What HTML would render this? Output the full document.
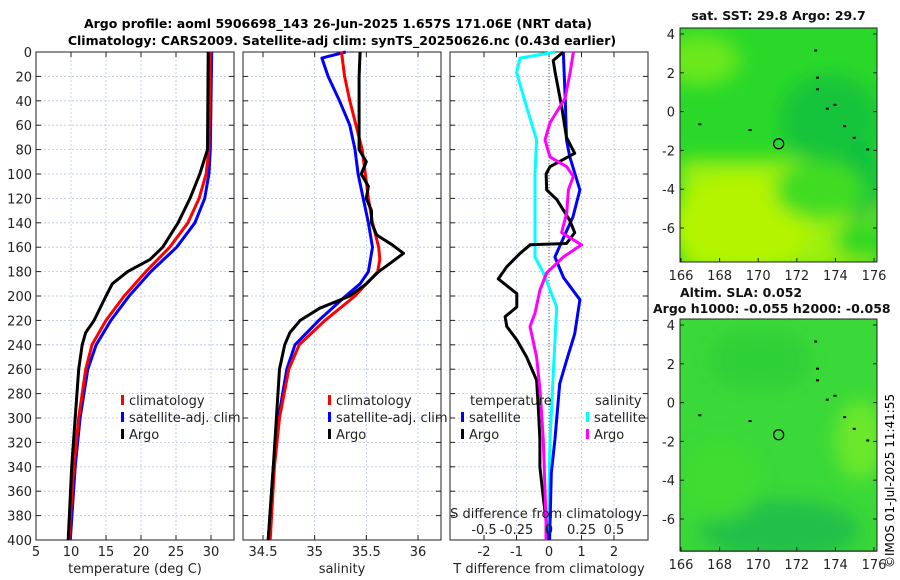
<!DOCTYPE html>
<html><head><meta charset="utf-8"><style>
html,body{margin:0;padding:0;background:#fff;}
svg{display:block;font-family:"DejaVu Sans","Liberation Sans",sans-serif;}
</style></head><body>
<svg id="fig" width="900" height="580" viewBox="0 0 900 580" xmlns="http://www.w3.org/2000/svg">
<defs>
<filter id="blur" x="-20%" y="-20%" width="140%" height="140%"><feGaussianBlur stdDeviation="9"/></filter>
<clipPath id="clipm1"><rect x="680" y="28" width="197" height="234"/></clipPath>
<clipPath id="clipm2"><rect x="680" y="319" width="197" height="233"/></clipPath>
</defs>
<text x="338" y="28" font-size="12.5" font-weight="bold" text-anchor="middle">Argo profile: aoml 5906698_143 26-Jun-2025 1.657S 171.06E (NRT data)</text>
<text x="342" y="45" font-size="12.5" font-weight="bold" text-anchor="middle">Climatology: CARS2009. Satellite-adj clim: synTS_20250626.nc (0.43d earlier)</text>
<g id="panels"></g>
<g clip-path="url(#clipm1)">
<rect x="680" y="28" width="197" height="234" fill="#2ad82a"/>
<g filter="url(#blur)">
<rect x="680" y="160" width="197" height="110" fill="#9ef010"/>
<ellipse cx="740" cy="225" rx="70" ry="50" fill="#b4f400"/>
<ellipse cx="700" cy="60" rx="40" ry="25" fill="#6ae81c"/>
<ellipse cx="830" cy="120" rx="50" ry="45" fill="#14c43a"/>
<ellipse cx="860" cy="180" rx="20" ry="40" fill="#10c040"/>
<ellipse cx="820" cy="190" rx="45" ry="30" fill="#40dc20"/>
<ellipse cx="860" cy="240" rx="25" ry="20" fill="#30d820"/>
</g>
</g>
<g clip-path="url(#clipm2)">
<rect x="680" y="319" width="197" height="233" fill="#3ad838"/>
<g filter="url(#blur)">
<ellipse cx="780" cy="530" rx="80" ry="30" fill="#20c048"/>
<ellipse cx="860" cy="440" rx="25" ry="40" fill="#6ae82a"/>
<ellipse cx="720" cy="480" rx="40" ry="40" fill="#40dc30"/>
<ellipse cx="760" cy="360" rx="50" ry="30" fill="#2ed038"/>
</g>
</g>
<g id="maps"></g>
<text transform="translate(894,568) rotate(-90)" font-size="12">©IMOS 01-Jul-2025 11:41:55</text>
</svg>
<script>
// ---- data ----
const tempDepth = [0,80,100,120,140,160,170,180,190,200,220,230,240,260,300,340,400];
const tempArgo  = [29.6,29.5,28.4,27,25.3,23.1,21.3,18.1,15.9,15,13.3,12.1,11.6,11.1,10.6,10.1,9.6];
const climDepth = [0,80,100,120,140,160,180,200,220,240,260,300,340,400];
const tempClim  = [29.9,29.7,29.3,28.3,26.7,24.1,20.7,17.6,15,13,12.1,11.1,10.4,9.7];
const tempSat   = [30.1,29.9,29.7,29.1,27.7,25.1,21.4,18.3,15.7,13.6,12.4,11.3,10.6,9.9];
const salArgoDepth = [0,20,40,60,80,90,100,110,120,130,140,150,158,165,172,180,190,200,210,220,230,240,260,300,340,400];
const salArgo = [35.44,35.43,35.43,35.43,35.43,35.5,35.45,35.52,35.5,35.55,35.55,35.6,35.75,35.86,35.75,35.62,35.5,35.34,35.05,34.86,34.76,34.71,34.66,34.63,34.6,34.55];
const salClimDepth = [0,20,40,60,80,100,120,140,160,170,180,200,220,240,260,300,340,400];
const salClim = [35.26,35.29,35.34,35.4,35.46,35.49,35.52,35.56,35.62,35.63,35.61,35.39,35.1,34.85,34.75,34.66,34.61,34.57];
const salSatDepth = [0,5,20,40,60,80,100,120,140,160,180,190,200,220,240,260,300,340,400];
const salSat = [35.3,35.07,35.13,35.24,35.34,35.39,35.42,35.47,35.52,35.56,35.52,35.44,35.3,35.04,34.81,34.73,34.65,34.6,34.55];
const tdSatDepth = [0,40,72,86,113,135,168,185,203,231,253,272,318,345,400];
const tdSat = [0.44,0.5,0.54,0.64,0.95,0.74,0.18,0.45,0.95,0.79,0.54,0.33,0.18,0.07,0.02];
const tdArgoDepth = [0,7,17,45,70,83,94,100,113,121,138,148,157,158,165,176,186,198,209,217,225,236,250,269,291,318,340,367,384,400];
const tdArgo = [0.44,0.13,0.19,0.39,0.54,0.79,0.03,-0.09,-0.07,0.24,0.64,0.79,0.54,-0.58,-0.89,-1.3,-1.56,-0.99,-0.99,-1.35,-1.3,-0.99,-0.69,-0.38,-0.33,-0.28,-0.28,-0.17,-0.09,-0.06];
const sdSatDepth = [0,5,17,45,72,100,154,168,181,209,236,263,318,384,400];
const sdSat = [0.046,-0.223,-0.249,-0.172,-0.095,-0.108,-0.108,-0.108,-0.044,0.059,0.046,0.033,0.008,-0.005,-0.005];
const sdArgoDepth = [0,17,38,58,72,86,94,102,113,132,148,158,168,181,195,214,225,250,277,318,384,400];
const sdArgo = [0.188,0.162,0.123,0.008,-0.031,0.008,0.136,0.187,0.149,0.136,0.097,0.251,0.110,-0.018,-0.069,-0.108,-0.146,-0.095,-0.069,-0.044,-0.023,-0.023];
const depthTicks = [0,20,40,60,80,100,120,140,160,180,200,220,240,260,280,300,320,340,360,380,400];
const tempTicks = [5,10,15,20,25,30];
const salTicks = [34.5,35,35.5,36];
const tdTicks = [-2,-1,0,1,2];
const sdTicks = [-0.5,-0.25,0,0.25,0.5];
const sdTickLabels = ['-0.5','-0.25','0','0.25','0.5'];
const latTicks = [4,2,0,-2,-4,-6];
const lonTicks = [166,168,170,172,174,176];
const argoLon = [171.06];
const argoLat = [-1.657];

const NS='http://www.w3.org/2000/svg';
function mk(tag,attrs,parent,txt){const e=document.createElementNS(NS,tag);for(const k in attrs)e.setAttribute(k,attrs[k]);if(txt!==undefined)e.textContent=txt;parent.appendChild(e);return e;}
const Y0=52,Y1=540;
const yD=d=>Y0+(Y1-Y0)*d/400;
function lin(d0,d1,r0,r1){return v=>r0+(v-d0)*(r1-r0)/(d1-d0);}
const panelsG=document.getElementById('panels');

function panel(name,xl,xr,xs,ticks,labels,xlabel,showY){
  const g=mk('g',{},panelsG);
  
  
  for(const d of depthTicks){
    const l=mk('line',{x1:xl,x2:xr,y1:yD(d),y2:yD(d),stroke:'#b8c4e8','stroke-width':0.8,'stroke-dasharray':'2,2'},g);
    
    mk('line',{x1:xl,x2:xl+5,y1:yD(d),y2:yD(d),stroke:'#222'},g);
    mk('line',{x1:xr-5,x2:xr,y1:yD(d),y2:yD(d),stroke:'#222'},g);
    if(showY){const t=mk('text',{x:xl-4,y:yD(d)+5,'font-size':13,'text-anchor':'end',fill:'#222'},g,String(d));
      }
  }
  ticks.forEach((v,i)=>{const x=xs(v);
    mk('line',{x1:x,x2:x,y1:Y0,y2:Y1,stroke:'#b8c4e8','stroke-width':0.8,'stroke-dasharray':'2,2'},g);
    mk('line',{x1:x,x2:x,y1:Y1,y2:Y1-5,stroke:'#222'},g);
    mk('line',{x1:x,x2:x,y1:Y0,y2:Y0+5,stroke:'#222'},g);
    const t=mk('text',{x:x,y:556,'font-size':13,'text-anchor':'middle',fill:'#222'},g,labels[i]);
    
  });
  mk('rect',{x:xl,y:Y0,width:xr-xl,height:Y1-Y0,fill:'none',stroke:'#222','stroke-width':1},g);
  const xt=mk('text',{x:(xl+xr)/2,y:573,'font-size':13,'text-anchor':'middle',fill:'#222'},g,xlabel);
  
  return g;
}
function line(g,xs,vals,depths,color,name,w){
  const pts=vals.map((v,i)=>xs(v).toFixed(1)+','+yD(depths[i]).toFixed(1)).join(' ');
  const p=mk('polyline',{points:pts,fill:'none',stroke:color,'stroke-width':w||3,'stroke-linejoin':'round'},g);
  
}
function legend(g,x,y,items){
  items.forEach((it,i)=>{
    if(it[1]) mk('rect',{x:x,y:y+i*17-10,width:3,height:10,fill:it[1]},g);
    const t=mk('text',{x:x+8,y:y+i*17,'font-size':13,fill:'#222'},g,it[0]);
    
  });
}
// panel 1
const xT=lin(5,30,36,211);
const g1=panel('temperature-panel',36,234,xT,tempTicks,tempTicks.map(String),'temperature (deg C)',true);
line(g1,xT,tempSat,climDepth,'#0000ff','temp-satellite-line');
line(g1,xT,tempClim,climDepth,'#ff0000','temp-climatology-line');
line(g1,xT,tempArgo,tempDepth,'#000000','temp-argo-line');
legend(g1,121,405,[['climatology','#f00'],['satellite-adj. clim','#00f'],['Argo','#000']]);
// panel 2
const xS=lin(34.5,36,263,418);
const g2=panel('salinity-panel',243,441,xS,salTicks,['34.5','35','35.5','36'],'salinity',false);
line(g2,xS,salSat,salSatDepth,'#0000ff','sal-satellite-line');
line(g2,xS,salClim,salClimDepth,'#ff0000','sal-climatology-line');
line(g2,xS,salArgo,salArgoDepth,'#000000','sal-argo-line');
legend(g2,328,405,[['climatology','#f00'],['satellite-adj. clim','#00f'],['Argo','#000']]);
// panel 3
const xTD=lin(0,1,549,581.5);
const xSD=lin(0,1,549,679);
const g3=panel('difference-panel',450,648,xTD,tdTicks,tdTicks.map(String),'T difference from climatology',false);
mk('line',{x1:549,x2:549,y1:Y0,y2:Y1,stroke:'#555','stroke-width':1,'stroke-dasharray':'1,2'},g3);
line(g3,xSD,sdSat,sdSatDepth,'#00ffff','sal-diff-satellite-line');
line(g3,xTD,tdSat,tdSatDepth,'#0000ff','temp-diff-satellite-line');
line(g3,xTD,tdArgo,tdArgoDepth,'#000000','temp-diff-argo-line');
line(g3,xSD,sdArgo,sdArgoDepth,'#ff00ff','sal-diff-argo-line');
const lt=mk('text',{x:470,y:405,'font-size':13,fill:'#222'},g3,'temperature');
const ls=mk('text',{x:595,y:405,'font-size':13,fill:'#222'},g3,'salinity');
legend(g3,461,422,[['satellite','#00f'],['Argo','#000']]);
legend(g3,586,422,[['satellite','#0ff'],['Argo','#f0f']]);
const st=mk('text',{x:546,y:518,'font-size':13,'text-anchor':'middle',fill:'#222'},g3,'S difference from climatology');

sdTicks.forEach((v,i)=>{const t=mk('text',{x:xSD(v),y:534,'font-size':13,'text-anchor':'middle',fill:'#222'},g3,sdTickLabels[i]);
  });

// maps
const mg=document.getElementById('maps');
function map(name,x0,x1,yTop,yBot,frameTop,frameBot,latTop,latBot,title,title2){
  const g=mk('g',{},mg);
  const xl=lin(166,176,681,874), yl=lin(latTop,latBot,yTop,yBot);
  mk('rect',{x:x0,y:frameTop,width:x1-x0,height:frameBot-frameTop,fill:'none',stroke:'#222'},g);
  latTicks.forEach(v=>{const y=yl(v);mk('line',{x1:x0,x2:x0+4,y1:y,y2:y,stroke:'#222'},g);mk('line',{x1:x1-4,x2:x1,y1:y,y2:y,stroke:'#222'},g);
    const t=mk('text',{x:x0-5,y:y+5,'font-size':13,'text-anchor':'end',fill:'#222'},g,String(v));});
  lonTicks.forEach(v=>{const x=xl(v);
    mk('line',{x1:x,x2:x,y1:frameBot,y2:frameBot-4,stroke:'#222'},g);
    const t=mk('text',{x:x,y:frameBot+18,'font-size':13,'text-anchor':'middle',fill:'#222'},g,String(v));});
  const c=mk('circle',{cx:xl(argoLon[0]),cy:yl(argoLat[0]),r:5,fill:'none',stroke:'#000','stroke-width':1.3},g);
  
  [[172.9,3.2],[173.0,1.8],[173.0,1.2],[173.5,0.2],[173.9,0.4],[174.4,-0.7],[174.9,-1.3],[175.6,-1.9],[166.9,-0.6],[169.5,-0.9]].forEach(p=>{
    mk('rect',{x:xl(p[0]),y:yl(p[1]),width:3,height:2,fill:'#000'},g);});
  if(title){const t1=mk('text',{x:(x0+x1)/2,y:frameTop-8,'font-size':12.5,'font-weight':'bold','text-anchor':'middle',fill:'#111'},g,title);
    }
  if(title2){const t2=mk('text',{x:653,y:frameTop-6,'font-size':12.5,'font-weight':'bold',fill:'#111'},g,title2);
    
    const t3=mk('text',{x:680,y:frameTop-22,'font-size':12.5,'font-weight':'bold',fill:'#111'},g,'Altim. SLA: 0.052');
    }
}
map('sst-map-axes',680,877,34,228,28,262,4,-6,'sat. SST: 29.8 Argo: 29.7');
map('sla-map-axes',680,877,325,519,319,551,4,-6,'','Argo h1000: -0.055 h2000: -0.058');
</script>
</body></html>
